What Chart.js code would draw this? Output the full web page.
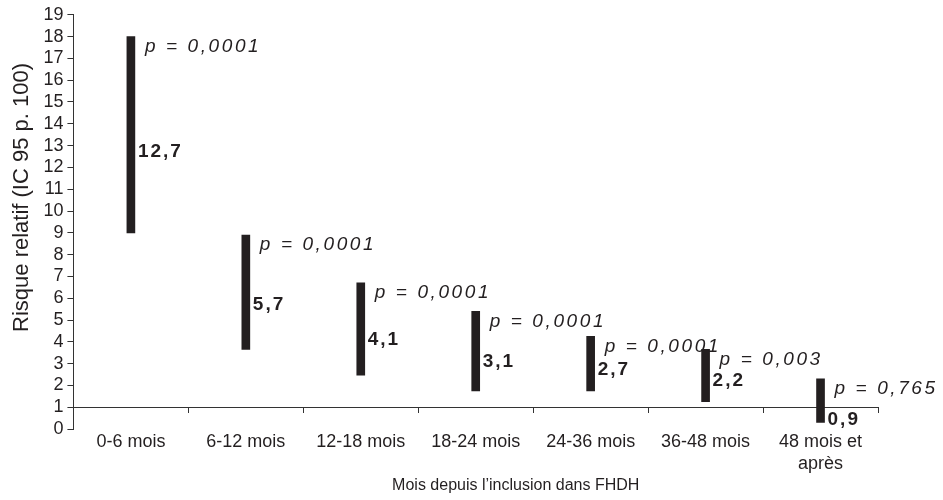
<!DOCTYPE html>
<html>
<head>
<meta charset="utf-8">
<script src="https://cdn.jsdelivr.net/npm/chart.js@4.4.1/dist/chart.umd.min.js"></script>
<style>
  html, body { margin: 0; padding: 0; background: #fff; }
  #wrap { width: 943px; height: 500px; }
</style>
</head>
<body>
<div id="wrap"><canvas id="riskChart"></canvas></div>
<script>
const categories = ['0-6 mois', '6-12 mois', '12-18 mois', '18-24 mois', '24-36 mois', '36-48 mois', ['48 mois et', 'après']];
const lower = [9.0, 3.65, 2.47, 1.75, 1.75, 1.25, 0.3];
const upper = [18.0, 8.9, 6.7, 5.4, 4.25, 3.65, 2.3];
const estimates = [12.7, 5.7, 4.1, 3.1, 2.7, 2.2, 0.9];
const pValues = ['0,0001', '0,0001', '0,0001', '0,0001', '0,0001', '0,003', '0,765'];

const FONT = '"Liberation Sans", Arial, Helvetica, sans-serif';
const INK = '#231f20';

// p value above, point estimate beside each interval
const ciLabels = {
    id: 'ciLabels',
    afterDatasetsDraw(chart) {
        const ctx = chart.ctx;
        const y = chart.scales.y;
        const axisY = y.getPixelForValue(1);
        const meta = chart.getDatasetMeta(0);
        ctx.save();
        ctx.fillStyle = INK;
        ctx.textAlign = 'left';
        ctx.textBaseline = 'middle';
        meta.data.forEach((bar, i) => {
            const right = bar.x + bar.width / 2;
            ctx.font = 'italic 19px ' + FONT;
            ctx.letterSpacing = '2.6px';
            ctx.fillText('p = ' + pValues[i], right + 10, y.getPixelForValue(upper[i]) + 10);

            ctx.font = 'bold 19px ' + FONT;
            ctx.letterSpacing = '2px';
            let ty = y.getPixelForValue(estimates[i]);
            if (ty + 8 > axisY) ty = axisY + 13;
            ctx.fillText(estimates[i].toFixed(1).replace('.', ','), right + 3, ty);
        });
        ctx.restore();
    }
};

const ctx = document.getElementById('riskChart').getContext('2d');
new Chart(ctx, {
    type: 'bar',
    data: {
        labels: categories,
        datasets: [{
            data: lower.map((lo, i) => [lo, upper[i]]),
            backgroundColor: INK,
            barThickness: 8,
            borderSkipped: false
        }]
    },
    options: {
        responsive: true,
        maintainAspectRatio: false,
        animation: false,
        layout: {
            padding: { left: 5, right: 65, top: 14, bottom: 71 }
        },
        plugins: {
            legend: { display: false },
            tooltip: { enabled: false }
        },
        scales: {
            x: {
                position: { y: 1 },
                offset: true,
                grid: {
                    offset: true,
                    drawOnChartArea: false,
                    tickLength: 5,
                    color: '#333'
                },
                border: { color: '#333', width: 1 },
                ticks: {
                    padding: 19,
                    color: INK,
                    maxRotation: 0,
                    autoSkip: false,
                    font: { family: FONT, size: 18 }
                },
                title: {
                    display: true,
                    // leading em spaces push the title right, as in the source
                    text: '\u2003\u2003\u2003\u2003\u2003Mois depuis l’inclusion dans FHDH',
                    color: INK,
                    padding: { top: -17, bottom: 4 },
                    font: { family: FONT, size: 16 }
                }
            },
            y: {
                min: 0,
                max: 19,
                grid: {
                    drawOnChartArea: false,
                    tickLength: 6,
                    color: '#333'
                },
                border: { color: '#333', width: 1 },
                ticks: {
                    stepSize: 1,
                    autoSkip: false,
                    padding: 4,
                    color: INK,
                    font: { family: FONT, size: 18 }
                },
                title: {
                    display: true,
                    text: '        Risque relatif (IC 95 p. 100)',
                    color: INK,
                    padding: 4,
                    font: { family: FONT, size: 22 }
                }
            }
        }
    },
    plugins: [ciLabels]
});
</script>
</body>
</html>
